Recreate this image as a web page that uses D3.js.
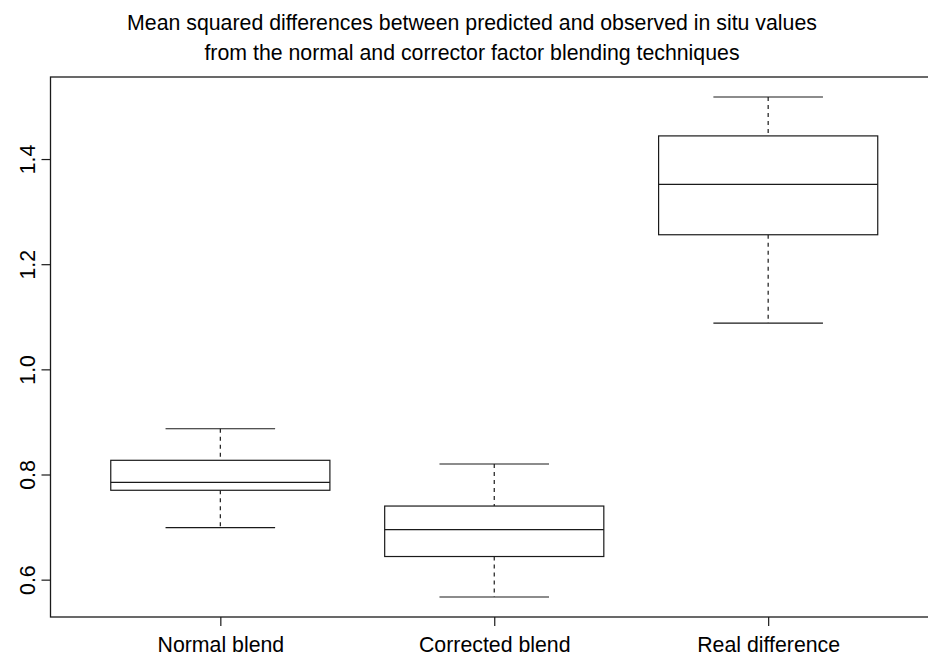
<!DOCTYPE html>
<html>
<head>
<meta charset="utf-8">
<script src="https://cdn.jsdelivr.net/npm/d3@7"></script>
<style>
  html, body { margin: 0; padding: 0; background: #fff; }
  text { font-family: "Liberation Sans", Arial, sans-serif; fill: #000; }
</style>
</head>
<body>
<div id="d3-container"></div>
<script>
/**
 * CONSTANTS AND GLOBALS
 * */
const width = 928,
  height = 657,
  margin = { top: 77, bottom: 40, left: 50.5, right: -10 };

const fontSize = 21.3;

/**
 * DATA
 * */
const categories = ["Normal blend", "Corrected blend", "Real difference"];
const whiskerLow = [0.699, 0.567, 1.088];
const q1 = [0.770, 0.644, 1.256];
const median = [0.785, 0.695, 1.352];
const q3 = [0.827, 0.740, 1.444];
const whiskerHigh = [0.887, 0.820, 1.518];
const yTicks = [0.6, 0.8, 1.0, 1.2, 1.4];
const titleLines = [
  "Mean squared differences between predicted and observed in situ values",
  "from the normal and corrector factor blending techniques"
];

// one row per box, built from the arrays above
const boxes = categories.map((name, i) => ({
  name,
  pos: i + 1,
  lo: whiskerLow[i],
  q1: q1[i],
  med: median[i],
  q3: q3[i],
  hi: whiskerHigh[i]
}));

let svg;

init();

function init() {
  svg = d3
    .select("#d3-container")
    .append("svg")
    .attr("width", width)
    .attr("height", height);

  // R style range: data extent padded by 4% on each side
  const [minV, maxV] = d3.extent(whiskerLow.concat(whiskerHigh));
  const pad = (maxV - minV) * 0.04;

  const y = d3.scaleLinear()
    .domain([minV - pad, maxV + pad])
    .range([height - margin.bottom, margin.top]);

  // boxes sit at 1..n, xlim 0.5..n+0.5 padded 4%
  const n = categories.length;
  const xPad = n * 0.04;
  const x = d3.scaleLinear()
    .domain([0.5 - xPad, n + 0.5 + xPad])
    .range([margin.left, width - margin.right]);

  const unit = x(1) - x(0);
  const boxHalf = unit * 0.4;
  const capHalf = unit * 0.2;

  const stroke = "#1a1a1a";

  // plot frame (its right side falls just outside the picture)
  svg.append("rect")
    .attr("x", x.range()[0])
    .attr("y", y.range()[1])
    .attr("width", x.range()[1] - x.range()[0])
    .attr("height", y.range()[0] - y.range()[1])
    .attr("fill", "none")
    .attr("stroke", stroke)
    .attr("stroke-width", 1.3);

  // y axis: ticks outward, labels rotated like R's las = 0
  const yAxis = svg.append("g")
    .attr("transform", `translate(${x.range()[0]},0)`)
    .call(d3.axisLeft(y).tickValues(yTicks).tickFormat(d3.format(".1f")).tickSize(9).tickSizeOuter(0));
  yAxis.select(".domain").remove();
  yAxis.selectAll(".tick line").attr("stroke", stroke).attr("stroke-width", 1.2);
  yAxis.selectAll(".tick text")
    .attr("x", null).attr("dy", null)
    .attr("transform", "translate(-15.5,0) rotate(-90)")
    .attr("text-anchor", "middle")
    .attr("font-size", fontSize)
    .attr("font-family", null);

  // x axis with category names under the boxes
  const xAxis = svg.append("g")
    .attr("transform", `translate(0,${y.range()[0]})`)
    .call(d3.axisBottom(x).tickValues(boxes.map(d => d.pos))
      .tickFormat(d => categories[d - 1]).tickSize(9).tickSizeOuter(0));
  xAxis.select(".domain").remove();
  xAxis.selectAll(".tick line").attr("stroke", stroke).attr("stroke-width", 1.2);
  xAxis.selectAll(".tick text")
    .attr("y", 34.8).attr("dy", null)
    .attr("font-size", fontSize)
    .attr("font-family", null);

  // boxplots
  const g = svg.selectAll("g.box")
    .data(boxes)
    .join("g")
    .attr("class", "box")
    .attr("fill", "none")
    .attr("stroke", stroke)
    .attr("stroke-width", 1.2);

  // dashed whiskers
  g.append("line")
    .attr("x1", d => x(d.pos)).attr("x2", d => x(d.pos))
    .attr("y1", d => y(d.hi)).attr("y2", d => y(d.q3))
    .attr("stroke-dasharray", "4,4");
  g.append("line")
    .attr("x1", d => x(d.pos)).attr("x2", d => x(d.pos))
    .attr("y1", d => y(d.q1)).attr("y2", d => y(d.lo))
    .attr("stroke-dasharray", "4,4");

  // staples
  g.append("line")
    .attr("x1", d => x(d.pos) - capHalf).attr("x2", d => x(d.pos) + capHalf)
    .attr("y1", d => y(d.hi)).attr("y2", d => y(d.hi));
  g.append("line")
    .attr("x1", d => x(d.pos) - capHalf).attr("x2", d => x(d.pos) + capHalf)
    .attr("y1", d => y(d.lo)).attr("y2", d => y(d.lo));

  // box
  g.append("rect")
    .attr("x", d => x(d.pos) - boxHalf)
    .attr("width", boxHalf * 2)
    .attr("y", d => y(d.q3))
    .attr("height", d => y(d.q1) - y(d.q3))
    .attr("fill", "#fff");

  // median
  g.append("line")
    .attr("x1", d => x(d.pos) - boxHalf).attr("x2", d => x(d.pos) + boxHalf)
    .attr("y1", d => y(d.med)).attr("y2", d => y(d.med));

  // two line title, plain weight
  svg.selectAll("text.title")
    .data(titleLines)
    .join("text")
    .attr("class", "title")
    .attr("x", 472)
    .attr("y", (d, i) => 30 + i * 29.5)
    .attr("text-anchor", "middle")
    .attr("font-size", fontSize)
    .text(d => d);
}
</script>
</body>
</html>
